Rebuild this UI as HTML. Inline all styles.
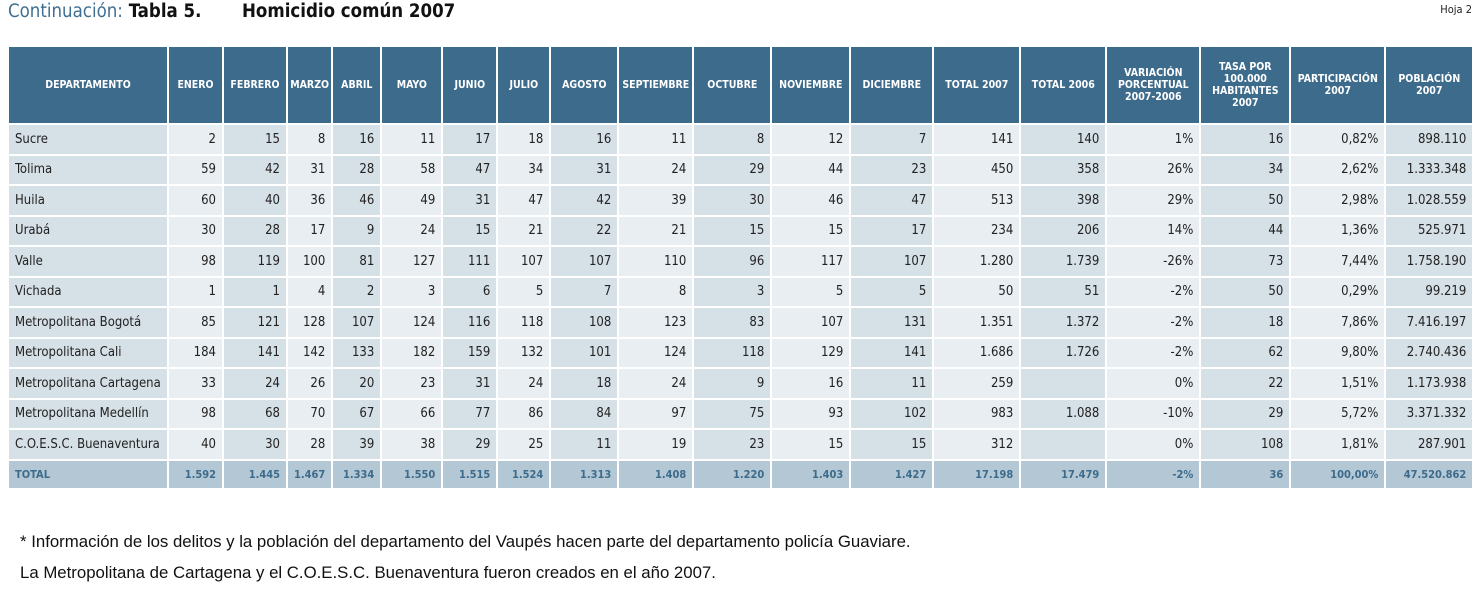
<!DOCTYPE html>
<html><head><meta charset="utf-8"><style>
body{margin:0;width:1482px;height:600px;background:#fff;font-family:"DejaVu Sans Condensed","Liberation Sans",sans-serif;overflow:hidden;position:relative}
.title{position:absolute;left:8px;top:1px;font-size:18.5px;font-weight:bold;color:#111;font-family:"DejaVu Sans Condensed","Liberation Sans",sans-serif}
.title .c{color:#3f6f90;font-weight:normal}
.hoja{position:absolute;right:10px;top:3px;font-size:11px;color:#222}
table{position:absolute;left:7px;top:45px;border-collapse:collapse;table-layout:fixed}
td,th{border:2px solid #fff;padding:0 6px;font-size:13px;color:#222;white-space:nowrap}
th{background:#3d6b8c;color:#fff;font-size:10.5px;font-weight:bold;height:76px;padding:0 1px;text-align:center;line-height:12px}
td{height:28.5px;text-align:right}
td:first-child{text-align:left}
tr td:nth-child(odd){background:#d6e0e7}
tr td:nth-child(even){background:#e9eef2}
tr.tot td{background:#b3c7d4;color:#3d6b8c;font-weight:bold;font-size:11px;height:27px}
.note{position:absolute;left:20px;font-size:16.8px;color:#111;font-family:"Liberation Sans",sans-serif}
</style></head><body>
<div class="title"><span class="c">Continuación:</span> Tabla 5.&nbsp;&nbsp;&nbsp;&nbsp;&nbsp;&nbsp; Homicidio común 2007</div>
<div class="hoja">Hoja 2</div>
<table>
<colgroup><col style="width:160px"><col style="width:55px"><col style="width:64px"><col style="width:45px"><col style="width:49px"><col style="width:61px"><col style="width:55px"><col style="width:53px"><col style="width:68px"><col style="width:75px"><col style="width:78px"><col style="width:79px"><col style="width:83px"><col style="width:87px"><col style="width:86px"><col style="width:94px"><col style="width:90px"><col style="width:95px"><col style="width:88px"></colgroup>
<tr><th>DEPARTAMENTO</th><th>ENERO</th><th>FEBRERO</th><th>MARZO</th><th>ABRIL</th><th>MAYO</th><th>JUNIO</th><th>JULIO</th><th>AGOSTO</th><th>SEPTIEMBRE</th><th>OCTUBRE</th><th>NOVIEMBRE</th><th>DICIEMBRE</th><th>TOTAL 2007</th><th>TOTAL 2006</th><th>VARIACIÓN<br>PORCENTUAL<br>2007-2006</th><th>TASA POR<br>100.000<br>HABITANTES<br>2007</th><th>PARTICIPACIÓN<br>2007</th><th>POBLACIÓN<br>2007</th></tr>
<tr><td>Sucre</td><td>2</td><td>15</td><td>8</td><td>16</td><td>11</td><td>17</td><td>18</td><td>16</td><td>11</td><td>8</td><td>12</td><td>7</td><td>141</td><td>140</td><td>1%</td><td>16</td><td>0,82%</td><td>898.110</td></tr>
<tr><td>Tolima</td><td>59</td><td>42</td><td>31</td><td>28</td><td>58</td><td>47</td><td>34</td><td>31</td><td>24</td><td>29</td><td>44</td><td>23</td><td>450</td><td>358</td><td>26%</td><td>34</td><td>2,62%</td><td>1.333.348</td></tr>
<tr><td>Huila</td><td>60</td><td>40</td><td>36</td><td>46</td><td>49</td><td>31</td><td>47</td><td>42</td><td>39</td><td>30</td><td>46</td><td>47</td><td>513</td><td>398</td><td>29%</td><td>50</td><td>2,98%</td><td>1.028.559</td></tr>
<tr><td>Urabá</td><td>30</td><td>28</td><td>17</td><td>9</td><td>24</td><td>15</td><td>21</td><td>22</td><td>21</td><td>15</td><td>15</td><td>17</td><td>234</td><td>206</td><td>14%</td><td>44</td><td>1,36%</td><td>525.971</td></tr>
<tr><td>Valle</td><td>98</td><td>119</td><td>100</td><td>81</td><td>127</td><td>111</td><td>107</td><td>107</td><td>110</td><td>96</td><td>117</td><td>107</td><td>1.280</td><td>1.739</td><td>-26%</td><td>73</td><td>7,44%</td><td>1.758.190</td></tr>
<tr><td>Vichada</td><td>1</td><td>1</td><td>4</td><td>2</td><td>3</td><td>6</td><td>5</td><td>7</td><td>8</td><td>3</td><td>5</td><td>5</td><td>50</td><td>51</td><td>-2%</td><td>50</td><td>0,29%</td><td>99.219</td></tr>
<tr><td>Metropolitana Bogotá</td><td>85</td><td>121</td><td>128</td><td>107</td><td>124</td><td>116</td><td>118</td><td>108</td><td>123</td><td>83</td><td>107</td><td>131</td><td>1.351</td><td>1.372</td><td>-2%</td><td>18</td><td>7,86%</td><td>7.416.197</td></tr>
<tr><td>Metropolitana Cali</td><td>184</td><td>141</td><td>142</td><td>133</td><td>182</td><td>159</td><td>132</td><td>101</td><td>124</td><td>118</td><td>129</td><td>141</td><td>1.686</td><td>1.726</td><td>-2%</td><td>62</td><td>9,80%</td><td>2.740.436</td></tr>
<tr><td>Metropolitana Cartagena</td><td>33</td><td>24</td><td>26</td><td>20</td><td>23</td><td>31</td><td>24</td><td>18</td><td>24</td><td>9</td><td>16</td><td>11</td><td>259</td><td></td><td>0%</td><td>22</td><td>1,51%</td><td>1.173.938</td></tr>
<tr><td>Metropolitana Medellín</td><td>98</td><td>68</td><td>70</td><td>67</td><td>66</td><td>77</td><td>86</td><td>84</td><td>97</td><td>75</td><td>93</td><td>102</td><td>983</td><td>1.088</td><td>-10%</td><td>29</td><td>5,72%</td><td>3.371.332</td></tr>
<tr><td>C.O.E.S.C. Buenaventura</td><td>40</td><td>30</td><td>28</td><td>39</td><td>38</td><td>29</td><td>25</td><td>11</td><td>19</td><td>23</td><td>15</td><td>15</td><td>312</td><td></td><td>0%</td><td>108</td><td>1,81%</td><td>287.901</td></tr>
<tr class="tot"><td>TOTAL</td><td>1.592</td><td>1.445</td><td>1.467</td><td>1.334</td><td>1.550</td><td>1.515</td><td>1.524</td><td>1.313</td><td>1.408</td><td>1.220</td><td>1.403</td><td>1.427</td><td>17.198</td><td>17.479</td><td>-2%</td><td>36</td><td>100,00%</td><td>47.520.862</td></tr>
</table>
<div class="note" style="top:532px">* Información de los delitos y la población del departamento del Vaupés hacen parte del departamento policía Guaviare.</div>
<div class="note" style="top:563px">La Metropolitana de Cartagena y el C.O.E.S.C. Buenaventura fueron creados en el año 2007.</div>
</body></html>
